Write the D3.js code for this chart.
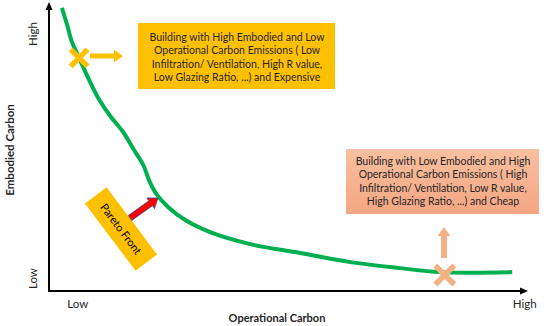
<!DOCTYPE html>
<html>
<head>
<meta charset="utf-8">
<script src="https://cdn.jsdelivr.net/npm/d3@7"></script>
<style>
  body { margin: 0; background: #fff; }
  svg { display: block; font-family: Lato, "Open Sans", sans-serif; }
</style>
</head>
<body>
<svg width="550" height="326"></svg>
<script>
// curve values, 0..100 on both axes (Low -> High)
const frontX = [2.7, 3.8, 4.8, 6.3, 8.2, 10.3, 12.8, 15.5, 17.8, 19.7, 21.1, 22.6, 24.9, 28.5, 33.7, 42.1, 52.5, 63.0, 73.4, 81.8, 96.9];
const frontY = [99.0, 93.0, 87.1, 81.5, 74.5, 67.5, 61.2, 55.6, 49.3, 44.1, 38.1, 33.6, 29.4, 24.8, 20.6, 16.4, 13.3, 10.1, 8.0, 6.6, 6.6];

const tickLabels = ["Low", "High"];
const xTickVals = [5.9, 99.4];
const yTickVals = [4.5, 90];

const xTitle = "Operational Carbon";
const yTitle = "Embodied Carbon";

const highText = ["Building with High Embodied and Low", "Operational Carbon Emissions ( Low",
  "Infiltration/ Ventilation, High R value,", "Low Glazing Ratio, ...) and Expensive"];
const lowText = ["Building with Low Embodied and High", "Operational Carbon Emissions ( High",
  "Infiltration/ Ventilation, Low R value,", "High Glazing Ratio, ...) and Cheap"];
const paretoLabel = "Pareto Front";

// marked designs on the front
const markX = [6.3, 82.8];
const markY = [81.5, 5.6];

var svg = d3.select('svg');
var x = d3.scaleLinear().domain([0, 100]).range([49, 527]);
var y = d3.scaleLinear().domain([0, 100]).range([291, 5]);

// arrow polygon helper
function arrowPath(x1, y1, x2, y2, sw, hw, hl) {
  var dx = x2 - x1, dy = y2 - y1, len = Math.sqrt(dx * dx + dy * dy);
  var ux = dx / len, uy = dy / len, nx = -uy, ny = ux;
  var b = len - hl;
  var pts = [[0, sw / 2], [b, sw / 2], [b, hw / 2], [len, 0], [b, -hw / 2], [b, -sw / 2], [0, -sw / 2]];
  return 'M' + pts.map(p => [x1 + ux * p[0] + nx * p[1], y1 + uy * p[0] + ny * p[1]].join(',')).join('L') + 'Z';
}

// axes lines with arrowheads
svg.append('line').attr('x1', x(0)).attr('y1', y(0)).attr('x2', x(0)).attr('y2', 8)
  .attr('stroke', '#000').attr('stroke-width', 2);
svg.append('path').attr('d', `M${x(0) - 3.5},10L${x(0)},2L${x(0) + 3.5},10Z`).attr('fill', '#000');
svg.append('line').attr('x1', x(0) - 1).attr('y1', y(0)).attr('x2', 522).attr('y2', y(0))
  .attr('stroke', '#000').attr('stroke-width', 2);
svg.append('path').attr('d', `M520,${y(0) - 3.5}L528,${y(0)}L520,${y(0) + 3.5}Z`).attr('fill', '#000');

var xAxis = d3.axisBottom(x).tickValues(xTickVals).tickSize(0).tickFormat((d, i) => tickLabels[i]);
var gx = svg.append('g').attr('transform', `translate(0,${y(0) + 6})`).call(xAxis);
var yAxis = d3.axisLeft(y).tickValues(yTickVals).tickSize(0).tickFormat((d, i) => tickLabels[i]);
var gy = svg.append('g').attr('transform', `translate(37,0)`).call(yAxis);
[gx, gy].forEach(g => {
  g.select('.domain').remove();
  g.selectAll('text').attr('font-family', 'Lato, "Open Sans", sans-serif')
    .attr('font-size', '11.5px').attr('fill', '#262626');
});
// y tick labels are rotated like the axis title
gy.selectAll('text').attr('text-anchor', 'middle').attr('x', 0).attr('y', 0).attr('dy', 0)
  .attr('transform', 'rotate(-90)');

svg.append('text').attr('x', 277).attr('y', 322).attr('text-anchor', 'middle')
  .attr('font-weight', 'bold').attr('font-size', '11px').attr('fill', '#262626').text(xTitle);
svg.append('text').attr('transform', 'translate(14,150) rotate(-90)').attr('text-anchor', 'middle')
  .attr('font-weight', 'bold').attr('font-size', '11.5px').attr('fill', '#262626').text(yTitle);

// pareto front curve
var line = d3.line().x(d => x(d[0])).y(d => y(d[1])).curve(d3.curveCatmullRom);
svg.append('path').datum(d3.zip(frontX, frontY)).attr('d', line)
  .attr('fill', 'none').attr('stroke', '#00b050').attr('stroke-width', 4);

// top annotation box
svg.append('rect').attr('x', 138).attr('y', 23).attr('width', 197).attr('height', 66).attr('fill', '#ffc000');
svg.append('g').selectAll('text').data(highText).enter().append('text')
  .attr('x', 237).attr('y', (d, i) => 41 + i * 13.4).attr('text-anchor', 'middle')
  .attr('font-size', '10.5px').attr('fill', '#262626').text(d => d);
svg.append('path').attr('d', arrowPath(90, 56, 123, 56, 5, 13, 9)).attr('fill', '#ffc000');

// bottom annotation box
var grad = svg.append('defs').append('linearGradient').attr('id', 'pk')
  .attr('x1', 0).attr('y1', 0).attr('x2', 0).attr('y2', 1);
grad.append('stop').attr('offset', 0).attr('stop-color', '#f8c0a0');
grad.append('stop').attr('offset', 1).attr('stop-color', '#f4a582');
svg.append('rect').attr('x', 346).attr('y', 149).attr('width', 193).attr('height', 65).attr('fill', 'url(#pk)');
svg.append('g').selectAll('text').data(lowText).enter().append('text')
  .attr('x', 443).attr('y', (d, i) => 165 + i * 13.4).attr('text-anchor', 'middle')
  .attr('font-size', '10.5px').attr('fill', '#262626').text(d => d);
svg.append('path').attr('d', arrowPath(444, 258, 444, 227, 6, 13, 9)).attr('fill', '#f4b183');

// X markers
var markColors = ['#ffc000', '#f4b183'];
var markSize = [8.5, 9.5];
d3.zip(markX, markY).forEach((m, i) => {
  var cx = x(m[0]), cy = y(m[1]), h = markSize[i];
  svg.append('path').attr('d', `M${cx - h},${cy - h}L${cx + h},${cy + h}M${cx - h},${cy + h}L${cx + h},${cy - h}`)
    .attr('stroke', markColors[i]).attr('stroke-width', 5.5);
});

// pareto front label + arrow
var pg = svg.append('g').attr('transform', 'translate(121,229) rotate(53)');
pg.append('rect').attr('x', -42).attr('y', -13.5).attr('width', 84).attr('height', 27).attr('fill', '#ffc000');
pg.append('text').attr('x', 0).attr('y', 4).attr('text-anchor', 'middle')
  .attr('font-size', '11px').attr('fill', '#000').text(paretoLabel);
svg.append('path').attr('d', arrowPath(130, 218, 158, 198, 6, 13, 9))
  .attr('fill', '#ff0000').attr('stroke', '#2f528f').attr('stroke-width', 0.8);
</script>
</body>
</html>
